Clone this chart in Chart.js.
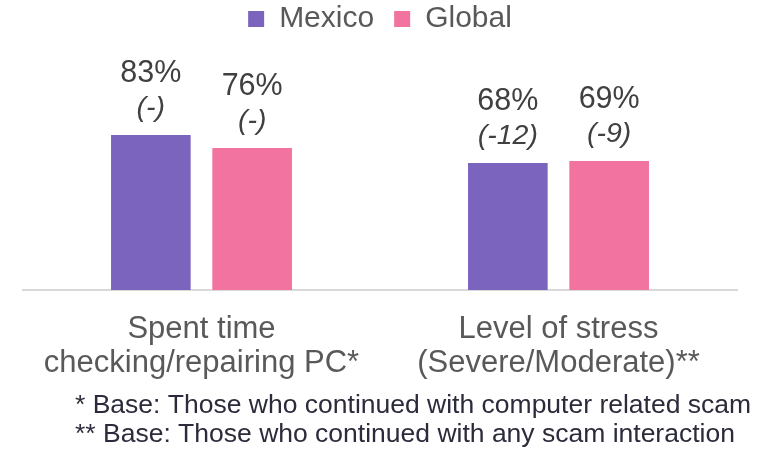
<!DOCTYPE html>
<html>
<head>
<meta charset="utf-8">
<script src="https://cdn.jsdelivr.net/npm/chart.js@4/dist/chart.umd.min.js"></script>
<style>
  html, body { margin: 0; padding: 0; background: #ffffff; }
  #wrap { width: 784px; height: 449px; position: relative; }
</style>
</head>
<body>
<div id="wrap"><canvas id="c"></canvas></div>
<script>
const categories = [
  ['Spent time', 'checking/repairing PC*'],
  ['Level of stress', '(Severe/Moderate)**']
];
const seriesNames = ['Mexico', 'Global'];
const mexicoValues = [83, 68];
const globalValues = [76, 69];
const mexicoChanges = ['(-)', '(-12)'];
const globalChanges = ['(-)', '(-9)'];
const footnotes = [
  '* Base: Those who continued with computer related scam',
  '** Base: Those who continued with any scam interaction'
];

const FONT = "'Liberation Sans', Arial, Helvetica, sans-serif";
const changeLabels = [mexicoChanges, globalChanges];

const labelPlugin = {
  id: 'barLabels',
  afterDatasetsDraw(chart) {
    const ctx = chart.ctx;
    ctx.save();
    ctx.textAlign = 'center';
    ctx.textBaseline = 'alphabetic';
    ctx.fillStyle = '#404040';
    chart.data.datasets.forEach((ds, di) => {
      const meta = chart.getDatasetMeta(di);
      meta.data.forEach((bar, i) => {
        ctx.font = '30.5px ' + FONT;
        ctx.fillText(ds.data[i] + '%', bar.x, bar.y - 53);
        ctx.font = 'italic 28.5px ' + FONT;
        ctx.fillText(changeLabels[di][i], bar.x, bar.y - 19);
      });
    });
    ctx.restore();
  },
  afterDraw(chart) {
    const ctx = chart.ctx;
    ctx.save();
    ctx.textAlign = 'left';
    ctx.textBaseline = 'alphabetic';
    ctx.fillStyle = '#2b2b3b';
    ctx.font = '26.5px ' + FONT;
    ctx.fillText(footnotes[0], 75, 413);
    ctx.fillText(footnotes[1], 75, 442);
    ctx.restore();
  }
};

new Chart(document.getElementById('c'), {
  type: 'bar',
  data: {
    labels: categories,
    datasets: [
      {
        label: seriesNames[0],
        data: mexicoValues,
        backgroundColor: '#7B64BE',
        borderWidth: 0,
        barPercentage: 0.786,
        categoryPercentage: 0.5675
      },
      {
        label: seriesNames[1],
        data: globalValues,
        backgroundColor: '#F272A0',
        borderWidth: 0,
        barPercentage: 0.786,
        categoryPercentage: 0.5675
      }
    ]
  },
  options: {
    responsive: true,
    maintainAspectRatio: false,
    animation: false,
    layout: { padding: { top: -16, left: 23, right: 47, bottom: 0 } },
    plugins: {
      legend: {
        display: true,
        position: 'top',
        labels: {
          boxWidth: 16,
          boxHeight: 16,
          padding: 20,
          color: '#595959',
          font: { family: FONT, size: 30 }
        }
      },
      tooltip: { enabled: false },
      title: { display: false }
    },
    scales: {
      x: {
        grid: { display: false, drawTicks: false },
        border: { display: true, color: '#d9d9d9', width: 2 },
        ticks: {
          padding: 22,
          color: '#595959',
          font: { family: FONT, size: 31, lineHeight: 1.097 },
          maxRotation: 0,
          autoSkip: false
        },
        afterFit(scale) { scale.height = 159; }
      },
      y: {
        display: false,
        min: 0,
        max: 131.7
      }
    }
  },
  plugins: [labelPlugin]
});
</script>
</body>
</html>
